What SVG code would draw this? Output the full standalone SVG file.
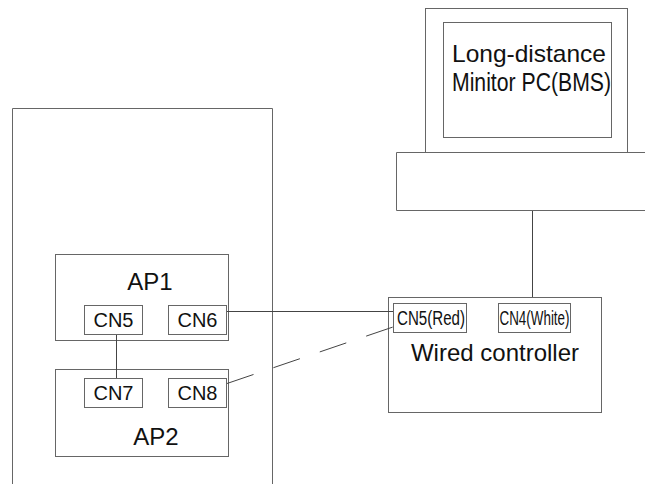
<svg xmlns="http://www.w3.org/2000/svg" width="645" height="484" viewBox="0 0 645 484">
<style>
.b{fill:none;stroke:#666;stroke-width:1}
.w{fill:#fff;stroke:#666;stroke-width:1}
.t{font-family:"Liberation Sans",Arial,sans-serif;fill:#111}
.c{stroke:#444;stroke-width:1;fill:none}
</style>
<rect width="645" height="484" fill="#fff"/>
<g id="cabinet"><path class="b" d="M12.5,484 V108.5 H272.5 V484"/></g>
<g id="pc">
<rect class="b" x="425.5" y="8.5" width="202" height="144"/>
<rect class="b" x="443.5" y="22.5" width="168" height="115"/>
<path class="b" d="M645,152.5 H396.5 V210.5 H645"/>
<text class="t" x="452" y="62" font-size="24" textLength="154" lengthAdjust="spacingAndGlyphs">Long-distance</text>
<text class="t" x="452" y="91" font-size="25" textLength="159" lengthAdjust="spacingAndGlyphs">Minitor PC(BMS)</text>
</g>
<g id="ap1">
<rect class="w" x="55.5" y="254.5" width="173" height="86"/>
<text class="t" x="150" y="290" font-size="24" text-anchor="middle">AP1</text>
<g id="ap1-cn5"><rect class="w" x="84.5" y="305.5" width="58" height="29"/><text class="t" x="113.5" y="327" font-size="20" text-anchor="middle">CN5</text></g>
<g id="ap1-cn6"><rect class="w" x="168.5" y="305.5" width="58" height="29"/><text class="t" x="197.5" y="327" font-size="20" text-anchor="middle">CN6</text></g>
</g>
<g id="ap2">
<rect class="w" x="55.5" y="369.5" width="173" height="87"/>
<text class="t" x="156" y="445" font-size="24" text-anchor="middle">AP2</text>
<g id="ap2-cn7"><rect class="w" x="84.5" y="378.5" width="58" height="29"/><text class="t" x="113.5" y="400" font-size="20" text-anchor="middle">CN7</text></g>
<g id="ap2-cn8"><rect class="w" x="168.5" y="378.5" width="58" height="29"/><text class="t" x="197.5" y="400" font-size="20" text-anchor="middle">CN8</text></g>
</g>
<g id="controller">
<rect class="w" x="388.5" y="297.5" width="213" height="115"/>
<text class="t" x="495" y="361" font-size="24" text-anchor="middle">Wired controller</text>
<g id="wc-cn5"><rect class="w" x="393.5" y="303.5" width="73" height="29"/><text class="t" x="397" y="325" font-size="20" textLength="68" lengthAdjust="spacingAndGlyphs">CN5(Red)</text></g>
<g id="wc-cn4"><rect class="w" x="498.5" y="303.5" width="72" height="29"/><text class="t" x="499.5" y="325" font-size="20" textLength="70" lengthAdjust="spacingAndGlyphs">CN4(White)</text></g>
</g>
<g id="connectors">
<line class="c" x1="116.5" y1="335" x2="116.5" y2="378"/>
<line class="c" x1="227" y1="311.5" x2="393" y2="311.5"/>
<line class="c" x1="227" y1="383.5" x2="393" y2="327" stroke-dasharray="28 21"/>
<line class="c" x1="532.5" y1="211" x2="532.5" y2="297"/>
</g>
</svg>
